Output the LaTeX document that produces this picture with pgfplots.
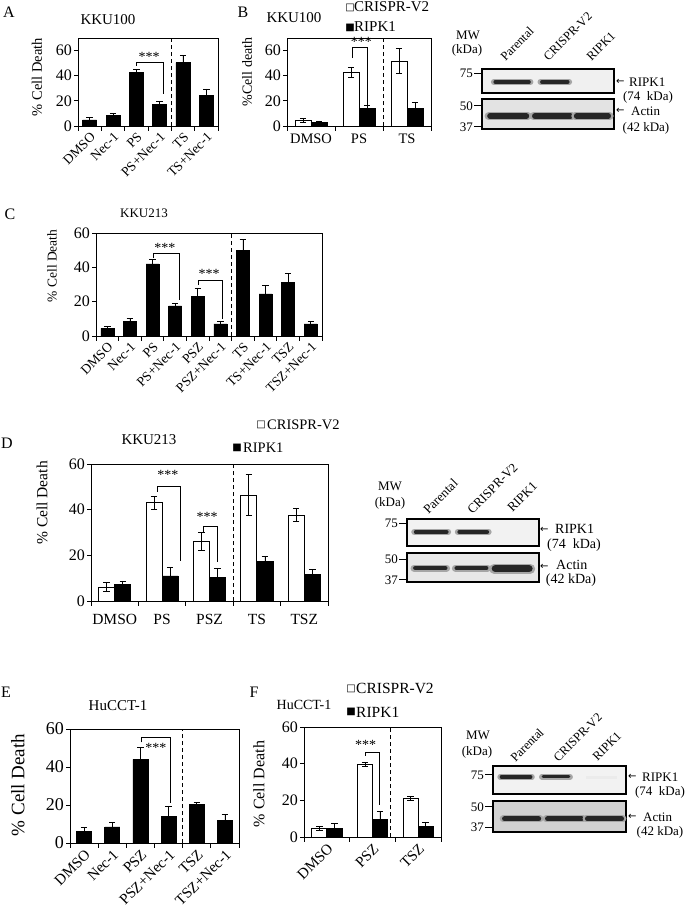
\documentclass[border=0pt]{standalone}
\usepackage{pgfplots}
\pgfplotsset{compat=1.18}
\usepackage{fontspec}
\setmainfont{Liberation Serif}
\newfontfamily\sym{DejaVu Sans}
\newcommand{\fs}[1]{\fontsize{#1}{#1}\selectfont}
\pgfplotsset{
  panel/.style={scale only axis, anchor=north west, clip=false,
    axis line style={black, line width=0.8pt},
    ymin=0, ytick={0,20,40,60},
    tick pos=left, tick align=outside,
    major tick length=4pt, minor tick length=4.5pt,
    every tick/.style={black, line width=0.8pt},
    every major x tick/.append style={draw=none},
    /pgf/number format/assume math mode=true,
    yticklabel style={font=\fs{16}, inner sep=2pt},
    xticklabel style={font=\fs{14.5}},
  },
  rotlab/.style={xticklabel style={rotate=45, anchor=north east, inner sep=1pt, font=\fs{#1}}},
  blk/.style={ybar, bar width=#1, bar shift=0pt, fill=black, draw=black, line width=0.6pt,
    error bars/y dir=both, error bars/y explicit,
    error bars/error bar style={black, line width=0.8pt},
    error bars/error mark options={rotate=90, black, line width=0.8pt, mark size=3.2pt}},
  wht/.style={ybar, bar width=#1, bar shift=0pt, fill=white, draw=black, line width=0.8pt,
    error bars/y dir=both, error bars/y explicit,
    error bars/error bar style={black, line width=0.8pt},
    error bars/error mark options={rotate=90, black, line width=0.8pt, mark size=3.2pt}},
  brk/.style={black, line width=0.8pt, sharp plot, no marks},
  vdash/.style={black, line width=1pt, dash pattern=on 4pt off 3pt, sharp plot, no marks},
  blot/.style={scale only axis, anchor=north west, clip=false,
    xmin=0, xmax=3, ymin=0, ymax=1, xtick=\empty,
    axis line style={black, line width=1.1pt},
    tick pos=left, tick align=outside, major tick length=8pt,
    every tick/.style={black, line width=1pt},
    yticklabel style={font=\fs{13}, inner sep=1pt},
    axis background/.style={fill=#1}},
  band/.style={sharp plot, no marks, line width=#1, black!85, line cap=round},
  halo/.style={sharp plot, no marks, line width=#1, black!35, line cap=round},
}
\tikzset{sig/.style={anchor=south, inner sep=0.5pt, font=\fs{14}}}
\begin{document}
\begin{tikzpicture}
\path[use as bounding box] (0pt,0pt) rectangle (685pt,-912pt);

% ================= Panel A =================
\node[font=\fs{16}] at (9pt,-12pt) {A};
\node[font=\fs{15}] at (108pt,-20pt) {KKU100};
\node[font=\fs{14.5}, rotate=90] at (37pt,-77pt) {\% Cell Death};
\begin{axis}[panel, rotlab=13.5, at={(78pt,-38pt)}, width=140pt, height=88pt,
  xmin=-0.5, xmax=5.5, ymax=70, xtick={0,...,5}, minor xtick={-0.5,0.5,...,5.5},
  xticklabels={DMSO,Nec-1,PS,PS+Nec-1,TS,TS+Nec-1}]
\addplot[blk=14pt] coordinates {(0,4.8)+-(0,1.8) (1,8.2)+-(0,1.9) (2,42.5)+-(0,2.7) (3,17.5)+-(0,1.9) (4,50.5)+-(0,6) (5,24.2)+-(0,5.3)};
\addplot[vdash] coordinates {(3.5,0) (3.5,70)};
\addplot[brk] coordinates {(2.01,48) (2.01,50.7) (3.16,50.7) (3.16,25.5)};
\node[sig] at (axis cs:2.55,50.9) {***};
\end{axis}

% ================= Panel B =================
\node[font=\fs{16}] at (243pt,-12pt) {B};
\node[font=\fs{15}] at (294pt,-18pt) {KKU100};
\node[font=\fs{10}\sym] at (350pt,-8pt) {□};
\node[font=\fs{15}, anchor=west, inner sep=0pt] at (354pt,-7pt) {CRISPR-V2};
\node[font=\fs{10}\sym] at (350pt,-28pt) {■};
\node[font=\fs{15}, anchor=west, inner sep=0pt] at (354pt,-27pt) {RIPK1};
\node[font=\fs{14}, rotate=90] at (247pt,-72pt) {\%Cell death};
\begin{axis}[panel, at={(287pt,-38pt)}, width=144pt, height=88pt,
  xmin=-0.5, xmax=2.5, ymax=70, xtick={0,1,2}, minor xtick={-0.5,0.5,1.5,2.5},
  xticklabels={DMSO,PS,TS}]
\addplot[wht=16pt] coordinates {(-0.1667,4.5)+-(0,1.5) (0.8333,43)+-(0,4) (1.8333,51.5)+-(0,10)};
\addplot[blk=16pt] coordinates {(0.1667,3)+-(0,1) (1.1667,14)+-(0,2) (2.1667,14)+-(0,4.5)};
\addplot[vdash] coordinates {(1.5,0) (1.5,70)};
\addplot[brk] coordinates {(0.87,54) (0.87,62.3) (1.17,62.3) (1.17,17)};
\node[sig] at (axis cs:1.05,62.5) {***};
\end{axis}

% ================= Blot 1 =================
\node[font=\fs{13}] at (468pt,-35pt) {MW};
\node[font=\fs{13}] at (467pt,-50pt) {(kDa)};
\node[font=\fs{12.5}, rotate=45, anchor=base west] at (503pt,-64pt) {Parental};
\node[font=\fs{12.5}, rotate=45, anchor=base west] at (546pt,-64pt) {CRISPR-V2};
\node[font=\fs{12.5}, rotate=45, anchor=base west] at (589pt,-64pt) {RIPK1};
\begin{axis}[blot=gray!12, at={(482pt,-69pt)}, width=132pt, height=24pt, ytick={0.83}, yticklabels={75}]
\addplot[halo=6pt] coordinates {(0.27,0.46) (1.1,0.46)};
\addplot[band=3.5pt] coordinates {(0.3,0.46) (1.07,0.46)};
\addplot[halo=6pt] coordinates {(1.33,0.46) (1.98,0.46)};
\addplot[band=3.5pt] coordinates {(1.36,0.46) (1.95,0.46)};
\end{axis}
\begin{axis}[blot=gray!22, at={(482pt,-99pt)}, width=132pt, height=30pt, ytick={0.07,0.77}, yticklabels={37,50}]
\addplot[halo=8pt] coordinates {(0.15,0.43) (1.04,0.43)};
\addplot[band=5.5pt] coordinates {(0.18,0.43) (1.01,0.43)};
\addplot[halo=8pt] coordinates {(1.17,0.43) (2.04,0.43)};
\addplot[band=5.5pt] coordinates {(1.2,0.43) (2.01,0.43)};
\addplot[halo=8pt] coordinates {(2.12,0.43) (2.9,0.43)};
\addplot[band=5.5pt] coordinates {(2.15,0.43) (2.87,0.43)};
\end{axis}
\node[font=\fs{10}\sym, anchor=west, inner sep=0pt] at (616pt,-82pt) {←};
\node[font=\fs{13}, anchor=west, inner sep=0pt] at (629pt,-82pt) {RIPK1};
\node[font=\fs{13}] at (648pt,-97pt) {(74\ \ kDa)};
\node[font=\fs{10}\sym, anchor=west, inner sep=0pt] at (616pt,-111pt) {←};
\node[font=\fs{13}, anchor=west, inner sep=0pt] at (631pt,-111pt) {Actin};
\node[font=\fs{13}] at (646pt,-128pt) {(42 kDa)};

% ================= Panel C =================
\node[font=\fs{16}] at (10pt,-214pt) {C};
\node[font=\fs{13}] at (144pt,-213pt) {KKU213};
\node[font=\fs{13.5}, rotate=90] at (52pt,-266pt) {\% Cell Death};
\begin{axis}[panel, rotlab=13.5, at={(96pt,-233pt)}, width=226pt, height=103pt,
  xmin=-0.5, xmax=9.5, ymax=60, xtick={0,...,9}, minor xtick={-0.5,0.5,...,9.5},
  xticklabels={DMSO,Nec-1,PS,PS+Nec-1,PSZ,PSZ+Nec-1,TS,TS+Nec-1,TSZ,TSZ+Nec-1}]
\addplot[blk=13pt] coordinates {(0,4.5)+-(0,1.3) (1,8.5)+-(0,1.8) (2,42)+-(0,2.6) (3,17.5)+-(0,1.5) (4,23)+-(0,5) (5,7)+-(0,1.5) (6,50)+-(0,6) (7,24.5)+-(0,5) (8,31)+-(0,5.5) (9,7)+-(0,1.5)};
\addplot[vdash] coordinates {(5.5,0) (5.5,60)};
\addplot[brk] coordinates {(2.05,45.4) (2.05,48.3) (3.2,48.3) (3.2,21)};
\node[sig] at (axis cs:2.55,48.5) {***};
\addplot[brk] coordinates {(4.05,29.7) (4.05,32.6) (5.1,32.6) (5.1,10)};
\node[sig] at (axis cs:4.5,32.8) {***};
\end{axis}

% ================= Panel D =================
\node[font=\fs{16}] at (7pt,-443pt) {D};
\node[font=\fs{15}] at (149pt,-440pt) {KKU213};
\node[font=\fs{10}\sym] at (261pt,-425pt) {□};
\node[font=\fs{14.5}, anchor=west, inner sep=0pt] at (267pt,-425pt) {CRISPR-V2};
\node[font=\fs{10}\sym] at (237pt,-448pt) {■};
\node[font=\fs{14.5}, anchor=west, inner sep=0pt] at (243pt,-448pt) {RIPK1};
\node[font=\fs{15.5}, rotate=90] at (42pt,-503pt) {\% Cell Death};
\begin{axis}[panel, at={(91pt,-464pt)}, width=237pt, height=137pt,
  xmin=-0.5, xmax=4.5, ymax=60, xtick={0,...,4}, minor xtick={-0.5,0.5,...,4.5},
  xticklabels={DMSO,PS,PSZ,TS,TSZ}, xticklabel style={font=\fs{15.5}, yshift=-6pt}]
\addplot[wht=16pt] coordinates {(-0.169,6)+-(0,2) (0.831,43)+-(0,2.9) (1.831,26)+-(0,3.9) (2.831,46.4)+-(0,9) (3.831,37.7)+-(0,2.7)};
\addplot[blk=16pt] coordinates {(0.169,7.3)+-(0,1.5) (1.169,11)+-(0,3.7) (2.169,10.4)+-(0,3.8) (3.169,17.2)+-(0,2.5) (4.169,11.8)+-(0,2)};
\addplot[vdash] coordinates {(2.5,0) (2.5,60)};
\addplot[brk] coordinates {(0.9,47.9) (0.9,50.1) (1.38,50.1) (1.38,17.7)};
\node[sig] at (axis cs:1.12,53) {***};
\addplot[brk] coordinates {(1.88,30.4) (1.88,32.6) (2.16,32.6) (2.16,17.2)};
\node[sig] at (axis cs:1.95,34.5) {***};
\end{axis}

% ================= Blot 2 =================
\node[font=\fs{13}] at (390pt,-486pt) {MW};
\node[font=\fs{13}] at (390pt,-503pt) {(kDa)};
\node[font=\fs{13}, rotate=45, anchor=base west] at (426pt,-517pt) {Parental};
\node[font=\fs{13}, rotate=45, anchor=base west] at (470pt,-517pt) {CRISPR-V2};
\node[font=\fs{13}, rotate=45, anchor=base west] at (510pt,-515pt) {RIPK1};
\begin{axis}[blot=gray!10, at={(407pt,-519pt)}, width=132pt, height=27pt, ytick={0.85}, yticklabels={75}]
\addplot[halo=6.5pt] coordinates {(0.17,0.52) (0.93,0.52)};
\addplot[band=4pt] coordinates {(0.2,0.52) (0.9,0.52)};
\addplot[halo=6.5pt] coordinates {(1.16,0.52) (1.85,0.52)};
\addplot[band=4pt] coordinates {(1.19,0.52) (1.82,0.52)};
\end{axis}
\begin{axis}[blot=gray!18, at={(407pt,-553pt)}, width=132pt, height=29pt, ytick={0.07,0.79}, yticklabels={37,50}]
\addplot[halo=7pt] coordinates {(0.16,0.48) (0.9,0.48)};
\addplot[band=4.5pt] coordinates {(0.19,0.48) (0.87,0.48)};
\addplot[halo=7pt] coordinates {(1.1,0.48) (1.83,0.48)};
\addplot[band=4.5pt] coordinates {(1.13,0.48) (1.8,0.48)};
\addplot[halo=10pt] coordinates {(1.98,0.46) (2.8,0.46)};
\addplot[band=7.5pt] coordinates {(2.01,0.46) (2.77,0.46)};
\end{axis}
\node[font=\fs{10}\sym, anchor=west, inner sep=0pt] at (540pt,-530pt) {←};
\node[font=\fs{14}, anchor=west, inner sep=0pt] at (555pt,-529pt) {RIPK1};
\node[font=\fs{14}] at (574pt,-545pt) {(74\ \ kDa)};
\node[font=\fs{10}\sym, anchor=west, inner sep=0pt] at (540pt,-567pt) {←};
\node[font=\fs{14}, anchor=west, inner sep=0pt] at (556pt,-565pt) {Actin};
\node[font=\fs{14}] at (571pt,-580pt) {(42 kDa)};

% ================= Panel E =================
\node[font=\fs{16}] at (6pt,-692pt) {E};
\node[font=\fs{15}] at (118pt,-706pt) {HuCCT-1};
\node[font=\fs{19}, rotate=90] at (18pt,-785pt) {\% Cell Death};
\begin{axis}[panel, rotlab=15, at={(70pt,-729pt)}, width=169pt, height=114pt,
  xmin=-0.5, xmax=5.5, ymax=60, xtick={0,...,5}, minor xtick={-0.5,0.5,...,5.5},
  xticklabels={DMSO,Nec-1,PSZ,PSZ+Nec-1,TSZ,TSZ+Nec-1}, yticklabel style={font=\fs{18}}]
\addplot[blk=15pt] coordinates {(0,6)+-(0,2) (1,8.5)+-(0,2.5) (2,44)+-(0,6.5) (3,14)+-(0,5.5) (4,20.5)+-(0,0.9) (5,12)+-(0,3)};
\addplot[vdash] coordinates {(3.5,0) (3.5,60)};
\addplot[brk] coordinates {(2.02,53) (2.02,55.6) (3.05,55.6) (3.05,21)};
\node[font=\fs{14}, inner sep=0pt] at (axis cs:2.55,50) {***};
\end{axis}

% ================= Panel F =================
\node[font=\fs{16}] at (254pt,-692pt) {F};
\node[font=\fs{14}] at (304pt,-705pt) {HuCCT-1};
\node[font=\fs{10}\sym] at (351pt,-689pt) {□};
\node[font=\fs{15.5}, anchor=west, inner sep=0pt] at (356pt,-688pt) {CRISPR-V2};
\node[font=\fs{10}\sym] at (351pt,-712pt) {■};
\node[font=\fs{15.5}, anchor=west, inner sep=0pt] at (356pt,-712pt) {RIPK1};
\node[font=\fs{16}, rotate=90] at (259pt,-784pt) {\% Cell Death};
\begin{axis}[panel, rotlab=15, at={(304pt,-727pt)}, width=137pt, height=110pt,
  xmin=-0.5, xmax=2.5, ymax=60, xtick={0,1,2}, minor xtick={-0.5,0.5,1.5,2.5},
  xticklabels={DMSO,PSZ,TSZ}]
\addplot[wht=15pt] coordinates {(-0.164,4.7)+-(0,1) (0.836,39.5)+-(0,1.2) (1.836,20.9)+-(0,1)};
\addplot[blk=15pt] coordinates {(0.164,4.7)+-(0,2.5) (1.164,9.8)+-(0,4.2) (2.164,5.8)+-(0,2.2)};
\addplot[vdash] coordinates {(1.4,0) (1.4,60)};
\addplot[brk] coordinates {(0.84,44.4) (0.84,46.4) (1.16,46.4) (1.16,17.6)};
\node[sig] at (axis cs:0.85,47.5) {***};
\end{axis}

% ================= Blot 3 =================
\node[font=\fs{13}] at (478pt,-735pt) {MW};
\node[font=\fs{13}] at (477pt,-752pt) {(kDa)};
\node[font=\fs{12.5}, rotate=45, anchor=base west] at (513pt,-765pt) {Parental};
\node[font=\fs{12.5}, rotate=45, anchor=base west] at (556pt,-765pt) {CRISPR-V2};
\node[font=\fs{12.5}, rotate=45, anchor=base west] at (595pt,-764pt) {RIPK1};
\begin{axis}[blot=gray!10, at={(493pt,-766pt)}, width=133pt, height=28pt, ytick={0.68}, yticklabels={75}]
\addplot[halo=5.5pt] coordinates {(0.16,0.61) (0.88,0.61)};
\addplot[band=3.5pt] coordinates {(0.19,0.61) (0.85,0.61)};
\addplot[halo=5.5pt] coordinates {(1.1,0.61) (1.74,0.61)};
\addplot[band=3pt] coordinates {(1.13,0.61) (1.71,0.61)};
\addplot[sharp plot, no marks, line width=3pt, black!8] coordinates {(2.1,0.6) (2.8,0.6)};
\end{axis}
\begin{axis}[blot=gray!35, at={(493pt,-801pt)}, width=133pt, height=31pt, ytick={0.16,0.81}, yticklabels={37,50}]
\addplot[halo=7pt] coordinates {(0.23,0.42) (1.06,0.42)};
\addplot[band=5pt] coordinates {(0.26,0.42) (1.03,0.42)};
\addplot[halo=7pt] coordinates {(1.2,0.42) (2.03,0.42)};
\addplot[band=5pt] coordinates {(1.23,0.42) (2.0,0.42)};
\addplot[halo=7pt] coordinates {(2.1,0.42) (2.93,0.42)};
\addplot[band=5pt] coordinates {(2.13,0.42) (2.9,0.42)};
\end{axis}
\node[font=\fs{10}\sym, anchor=west, inner sep=0pt] at (628pt,-777pt) {←};
\node[font=\fs{13}, anchor=west, inner sep=0pt] at (642pt,-777pt) {RIPK1};
\node[font=\fs{13}] at (660pt,-792pt) {(74\ \ kDa)};
\node[font=\fs{10}\sym, anchor=west, inner sep=0pt] at (628pt,-817pt) {←};
\node[font=\fs{13}, anchor=west, inner sep=0pt] at (643pt,-817pt) {Actin};
\node[font=\fs{13}] at (660pt,-832pt) {(42 kDa)};
\end{tikzpicture}
\end{document}
